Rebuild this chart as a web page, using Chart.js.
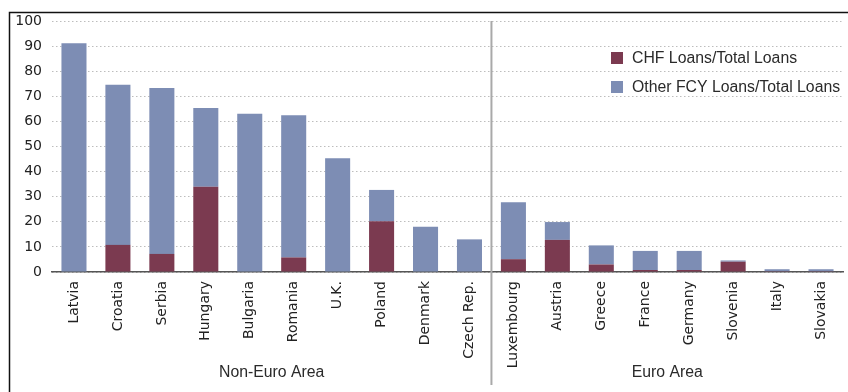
<!DOCTYPE html>
<html><head><meta charset="utf-8">
<script src="https://cdn.jsdelivr.net/npm/chart.js@4/dist/chart.umd.min.js"></script>
<style>html,body{margin:0;padding:0;background:#fff}#wrap{width:848px;height:392px}</style>
</head><body><div id="wrap"><canvas id="c" width="848" height="392"></canvas></div>
<script>
const categories = ["Latvia","Croatia","Serbia","Hungary","Bulgaria","Romania","U.K.","Poland","Denmark","Czech Rep.","Luxembourg","Austria","Greece","France","Germany","Slovenia","Italy","Slovakia"];
const chfLoans   = [0.2, 10.8, 7.2, 34.0, 0, 5.8, 0, 20.2, 0, 0, 5.1, 12.8, 3.0, 0.8, 0.8, 4.1, 0.3, 0.3];
const otherLoans = [90.9, 63.8, 66.1, 31.3, 63.0, 56.7, 45.3, 12.5, 18.0, 13.0, 22.7, 7.1, 7.6, 7.6, 7.6, 0.5, 0.8, 0.8];
const yTicks = [0,10,20,30,40,50,60,70,80,90,100];
const groups = [{label:"Non-Euro Area", from:0, to:9}, {label:"Euro Area", from:10, to:17}];
const seriesNames = ["CHF Loans/Total Loans","Other FCY Loans/Total Loans"];
const seriesColors = ["#7b3a50","#7d8db4"];

const overlay = {
  id:'overlay',
  afterDraw(chart){
    const ctx = chart.ctx, x = chart.scales.x, a = chart.chartArea;
    ctx.save();
    // frame
    ctx.strokeStyle = '#111'; ctx.lineWidth = 1.5;
    ctx.beginPath(); ctx.moveTo(9.5, 392); ctx.lineTo(9.5, 12.5); ctx.lineTo(848, 12.5); ctx.stroke();
    // divider
    const dx = (x.getPixelForValue(9) + x.getPixelForValue(10)) / 2;
    ctx.strokeStyle = '#a9a9a9'; ctx.lineWidth = 2;
    ctx.beginPath(); ctx.moveTo(dx, a.top); ctx.lineTo(dx, 385); ctx.stroke();
    // group labels
    ctx.fillStyle = '#2a2a2a'; ctx.font = '15.8px "Liberation Sans", Arial, sans-serif';
    ctx.textAlign = 'center'; ctx.textBaseline = 'middle';
    groups.forEach(g => {
      const cx = (x.getPixelForValue(g.from) + x.getPixelForValue(g.to)) / 2;
      ctx.fillText(g.label, cx, 373);
    });
    // legend
    ctx.textAlign = 'left';
    ctx.font = '15.8px "Liberation Sans", Arial, sans-serif';
    seriesNames.forEach((n, i) => {
      const y = 58 + i * 29;
      ctx.fillStyle = seriesColors[i];
      ctx.fillRect(611, y - 6, 12, 12);
      ctx.fillStyle = '#2a2a2a';
      ctx.fillText(n, 632, y + 1);
    });
    ctx.restore();
  }
};

new Chart(document.getElementById('c'), {
  type:'bar',
  data:{
    labels: categories,
    datasets:[
      {label:seriesNames[0], data:chfLoans, backgroundColor:seriesColors[0], borderWidth:0},
      {label:seriesNames[1], data:otherLoans, backgroundColor:seriesColors[1], borderWidth:0}
    ]
  },
  options:{
    responsive:false, animation:false,
    barPercentage:0.57, categoryPercentage:1.0,
    layout:{padding:{top:21, right:5, left:0, bottom:0}},
    plugins:{legend:{display:false}, tooltip:{enabled:false}},
    scales:{
      x:{
        stacked:true,
        grid:{display:false, drawTicks:false},
        border:{display:true, color:'#555', width:1.5},
        ticks:{minRotation:90, maxRotation:90, autoSkip:false, padding:9, color:'#222',
               font:{family:'"DejaVu Sans", sans-serif', size:14}},
        afterFit(s){ s.height = 120; }
      },
      y:{
        stacked:true, min:0, max:100,
        afterBuildTicks(s){ s.ticks = yTicks.map(v => ({value:v})); },
        grid:{color:'#bdbdbd', lineWidth:1, drawTicks:false},
        border:{display:false, dash:[1.5,2.5]},
        ticks:{padding:10, color:'#222', font:{family:'"DejaVu Sans", sans-serif', size:14}},
        afterFit(s){ s.width = 52; }
      }
    }
  },
  plugins:[overlay]
});
</script></body></html>
